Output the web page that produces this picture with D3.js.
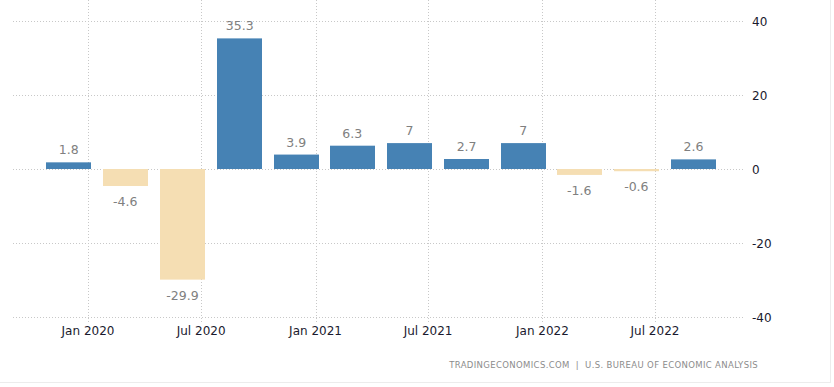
<!DOCTYPE html>
<html><head><meta charset="utf-8">
<script src="https://cdn.jsdelivr.net/npm/d3@7"></script>
<style>body{margin:0;background:#fff}svg{display:block}</style>
</head><body>
<svg id="c" width="834" height="387"></svg>
<script>
const periods = ["2019-12-01","2020-03-01","2020-06-01","2020-09-01","2020-12-01","2021-03-01","2021-06-01","2021-09-01","2021-12-01","2022-03-01","2022-06-01","2022-09-01"];
const values = [1.8,-4.6,-29.9,35.3,3.9,6.3,7,2.7,7,-1.6,-0.6,2.6];
const xTickDates = ["2020-01-01","2020-07-01","2021-01-01","2021-07-01","2022-01-01","2022-07-01"];
const yTicks = [40,20,0,-20,-40];
const source = "TRADINGECONOMICS.COM  |  U.S. BUREAU OF ECONOMIC ANALYSIS";

(function(){
const svg = d3.select("#c");
const parse = d3.utcParse("%Y-%m-%d");
const pLeft = 13, pRight = 745, pTop = 21, pBottom = 317;
const x = d3.scaleUtc().domain([parse("2020-01-01"), parse("2022-07-01")]).range([88, 655]);
const y = d3.scaleLinear().domain([-40, 40]).range([pBottom, pTop]);
const barW = 45;
const font = "DejaVu Sans, sans-serif";

// frame
svg.append("line").attr("x1",0).attr("x2",830).attr("y1",382.5).attr("y2",382.5).attr("stroke","#ececec");
svg.append("line").attr("x1",830.5).attr("x2",830.5).attr("y1",0).attr("y2",383).attr("stroke","#ececec");

// horizontal grid
svg.append("g").selectAll("line").data(yTicks).join("line")
  .attr("x1", pLeft).attr("x2", pRight)
  .attr("y1", d => Math.round(y(d)) + 0.5).attr("y2", d => Math.round(y(d)) + 0.5)
  .attr("stroke", "#c8c8c8").attr("stroke-dasharray", "1,2");

// vertical grid
svg.append("g").selectAll("line").data(xTickDates).join("line")
  .attr("x1", d => Math.round(x(parse(d))) + 0.5).attr("x2", d => Math.round(x(parse(d))) + 0.5)
  .attr("y1", 0).attr("y2", pBottom + 5)
  .attr("stroke", "#c8c8c8").attr("stroke-dasharray", "1,2");

// bars
svg.append("g").selectAll("rect").data(values).join("rect")
  .attr("x", (d, i) => Math.round(x(parse(periods[i])) - barW / 2))
  .attr("width", barW)
  .attr("y", d => d >= 0 ? y(d) : y(0))
  .attr("height", d => Math.abs(y(d) - y(0)))
  .attr("fill", d => d >= 0 ? "#4682b4" : "#f5deb3");

// bar labels
svg.append("g").selectAll("text").data(values).join("text")
  .attr("x", (d, i) => x(parse(periods[i])))
  .attr("y", d => d >= 0 ? y(d) - 8 : y(d) + 20)
  .attr("text-anchor", "middle")
  .attr("font-family", font).attr("font-size", 12.5)
  .attr("fill", "#808080")
  .text(d => String(d));

// y labels
svg.append("g").selectAll("text").data(yTicks).join("text")
  .attr("x", 752).attr("y", d => y(d) + 4.5)
  .attr("font-family", font).attr("font-size", 12)
  .attr("fill", "#1a1a2e")
  .text(d => String(d));

// x labels
const fmt = d3.utcFormat("%b %Y");
svg.append("g").selectAll("text").data(xTickDates).join("text")
  .attr("x", d => x(parse(d))).attr("y", 335)
  .attr("text-anchor", "middle")
  .attr("font-family", font).attr("font-size", 12)
  .attr("fill", "#1a1a2e")
  .text(d => fmt(parse(d)));

// source
svg.append("text").attr("x", 758).attr("y", 368)
  .attr("text-anchor", "end")
  .attr("font-family", font).attr("font-size", 8.5)
  .attr("letter-spacing", 0.35)
  .attr("xml:space", "preserve")
  .style("white-space", "pre")
  .attr("fill", "#8c8c8c")
  .text(source);
})();
</script>
</body></html>
